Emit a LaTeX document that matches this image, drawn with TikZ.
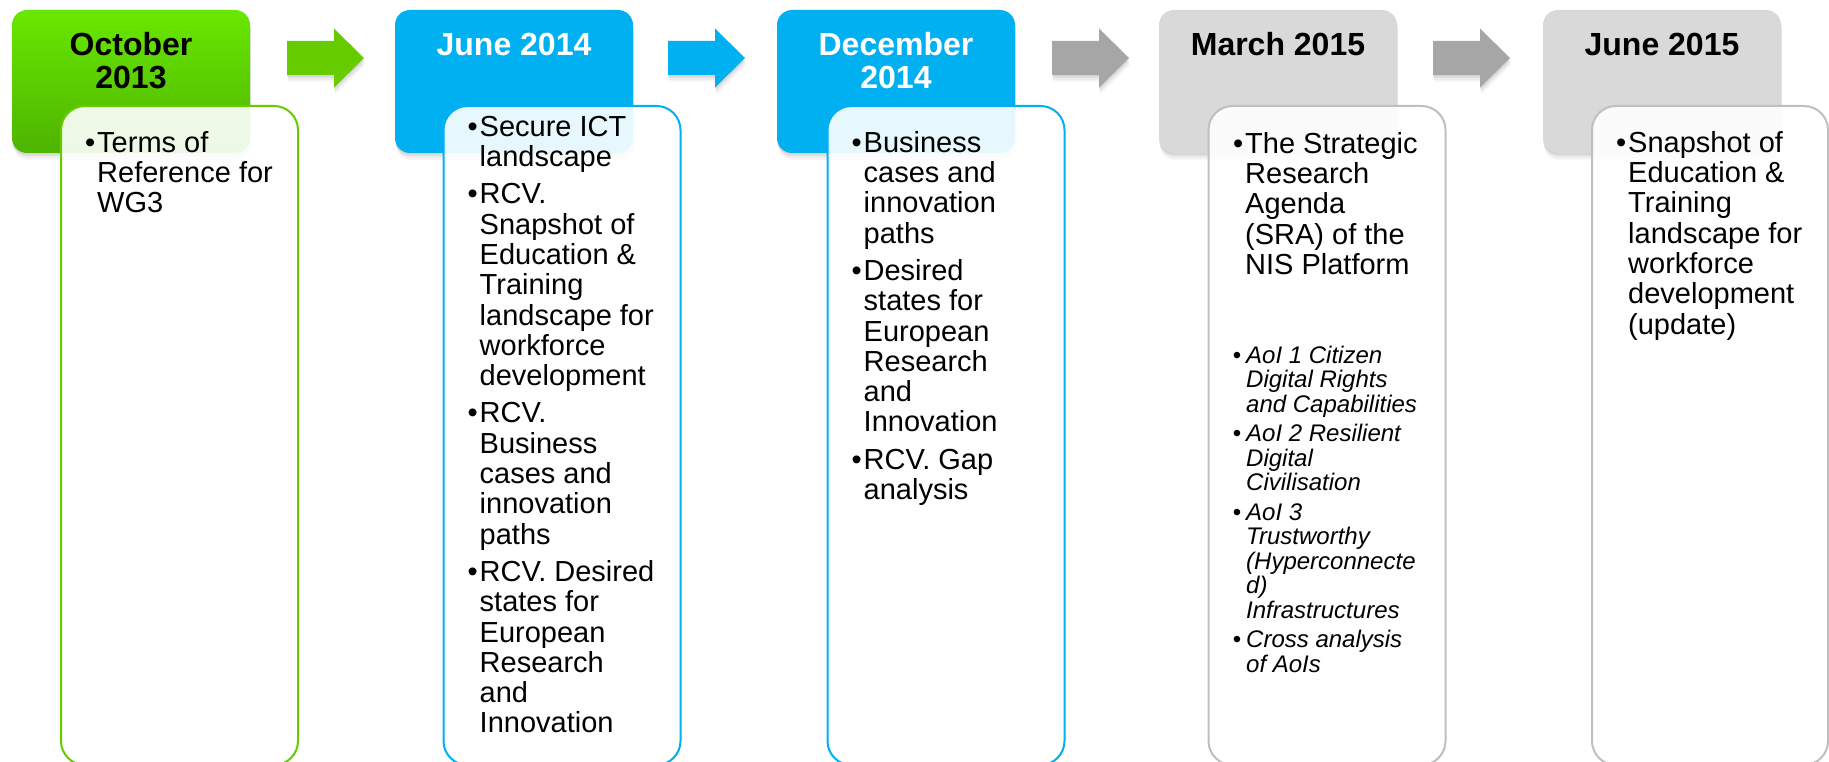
\documentclass[tikz,border=0pt]{standalone}
\usepackage{fontspec}
\setmainfont{Liberation Sans}
\usetikzlibrary{shadows}
\definecolor{pgreen}{RGB}{102,204,0}
\definecolor{gtop}{RGB}{104,232,0}
\definecolor{gbot}{RGB}{78,180,0}
\definecolor{pblue}{RGB}{0,176,240}
\definecolor{pgrey}{RGB}{217,217,217}
\definecolor{agrey}{RGB}{166,166,166}
\definecolor{bgrey}{RGB}{191,191,191}
\newcommand\bul{\llap{\textbullet\kern2pt}}
\newcommand\ibul{\llap{\upshape\textbullet\kern5pt}}
\newcommand\fr{\rule{0pt}{25pt}}
\newcommand\ifr{\rule{0pt}{20pt}}
\begin{document}
\begin{tikzpicture}[x=1pt,y=-1pt,
 softshadow/.style={
   drop shadow={opacity=0.07, shadow xshift=1pt, shadow yshift=-7pt},
   drop shadow={opacity=0.09, shadow xshift=1pt, shadow yshift=-5pt},
   drop shadow={opacity=0.12, shadow xshift=0.5pt, shadow yshift=-3pt},
   drop shadow={opacity=0.12, shadow xshift=0pt, shadow yshift=-1.5pt}},
 hdr/.style={rectangle, rounded corners=15pt, minimum width=238pt, minimum height=143pt,
   anchor=north west, inner sep=0pt, outer sep=0pt, softshadow},
 hdrtext/.style={anchor=north, align=center, inner sep=0pt,
   font=\bfseries\fontsize{32pt}{33pt}\selectfont},
 cbox/.style={rectangle, rounded corners=24pt, minimum width=237pt, minimum height=659pt,
   anchor=north west, inner sep=0pt, outer sep=0pt, fill=white, fill opacity=0.9, line width=2pt},
 body/.style={anchor=north west, align=left, inner sep=0pt,
   font=\fontsize{29pt}{30.3pt}\selectfont},
 sub/.style={anchor=north west, align=left, inner sep=0pt,
   font=\itshape\fontsize{24pt}{24.5pt}\selectfont},
 blockarrow/.style={softshadow}
]
\useasboundingbox (0,0) rectangle (1829,762);
\clip (0,0) rectangle (1829,762);

% header boxes
\node[hdr, top color=gtop, bottom color=gbot] (h1) at (12,10) {};
\node[hdr, fill=pblue] (h2) at (395,10) {};
\node[hdr, fill=pblue] (h3) at (777,10) {};
\node[hdr, fill=pgrey] (h4) at (1159,10) {};
\node[hdr, fill=pgrey] (h5) at (1543,10) {};

% header texts
\node[hdrtext, text=black] (h1t) at ([yshift=-17pt]h1.north) {\rule{0pt}{28pt}October\\2013};
\node[hdrtext, text=white] (h2t) at ([yshift=-17pt]h2.north) {\rule{0pt}{28pt}June 2014};
\node[hdrtext, text=white] (h3t) at ([yshift=-17pt]h3.north) {\rule{0pt}{28pt}December\\2014};
\node[hdrtext, text=black] (h4t) at ([yshift=-17pt]h4.north) {\rule{0pt}{28pt}March 2015};
\node[hdrtext, text=black] (h5t) at ([yshift=-17pt]h5.north) {\rule{0pt}{28pt}June 2015};

% block arrows
\fill[pgreen, blockarrow] (287,41) -- ++(47,0) -- ++(0,-12.5) -- ++(30,29.5) -- ++(-30,29.5) -- ++(0,-12.5) -- ++(-47,0) -- cycle;
\fill[pblue, blockarrow] (668,41) -- ++(47,0) -- ++(0,-12.5) -- ++(30,29.5) -- ++(-30,29.5) -- ++(0,-12.5) -- ++(-47,0) -- cycle;
\fill[agrey, blockarrow] (1052,41) -- ++(47,0) -- ++(0,-12.5) -- ++(30,29.5) -- ++(-30,29.5) -- ++(0,-12.5) -- ++(-47,0) -- cycle;
\fill[agrey, blockarrow] (1433,41) -- ++(47,0) -- ++(0,-12.5) -- ++(30,29.5) -- ++(-30,29.5) -- ++(0,-12.5) -- ++(-47,0) -- cycle;

% content boxes
\node[cbox, draw=pgreen] (c1) at (61,106) {};
\node[cbox, draw=pblue] (c2) at (443.5,106) {};
\node[cbox, draw=pblue] (c3) at (827.5,106) {};
\node[cbox, draw=bgrey] (c4) at (1208.5,106) {};
\node[cbox, draw=bgrey, minimum width=236pt] (c5) at (1592,106) {};

% content texts
\node[body] (c1t) at ([xshift=36pt, yshift=-21pt]c1.north west)
  {\fr\bul Terms of\\Reference for\\WG3};
\node[body] (c2t) at ([xshift=36pt, yshift=-5pt]c2.north west)
  {\fr\bul Secure ICT\\landscape\\[7pt]
   \bul RCV.\\Snapshot of\\Education \&\\Training\\landscape for\\workforce\\development\\[7pt]
   \bul RCV.\\Business\\cases and\\innovation\\paths\\[7pt]
   \bul RCV. Desired\\states for\\European\\Research\\and\\Innovation};
\node[body] (c3t) at ([xshift=36pt, yshift=-21pt]c3.north west)
  {\fr\bul Business\\cases and\\innovation\\paths\\[7pt]
   \bul Desired\\states for\\European\\Research\\and\\Innovation\\[7pt]
   \bul RCV. Gap\\analysis};
\node[body] (c4t) at ([xshift=36.5pt, yshift=-22pt]c4.north west)
  {\fr\bul The Strategic\\Research\\Agenda\\(SRA) of the\\NIS Platform};
\node[sub] (c4s) at ([xshift=37.5pt, yshift=-237pt]c4.north west)
  {\ifr\ibul AoI 1 Citizen\\Digital Rights\\and Capabilities\\[5pt]
   \ibul AoI 2 Resilient\\Digital\\Civilisation\\[5pt]
   \ibul AoI 3\\Trustworthy\\(Hyperconnecte\\d)\\Infrastructures\\[5pt]
   \ibul Cross analysis\\of AoIs};
\node[body] (c5t) at ([xshift=36pt, yshift=-21pt]c5.north west)
  {\fr\bul Snapshot of\\Education \&\\Training\\landscape for\\workforce\\development\\(update)};
\end{tikzpicture}
\end{document}
